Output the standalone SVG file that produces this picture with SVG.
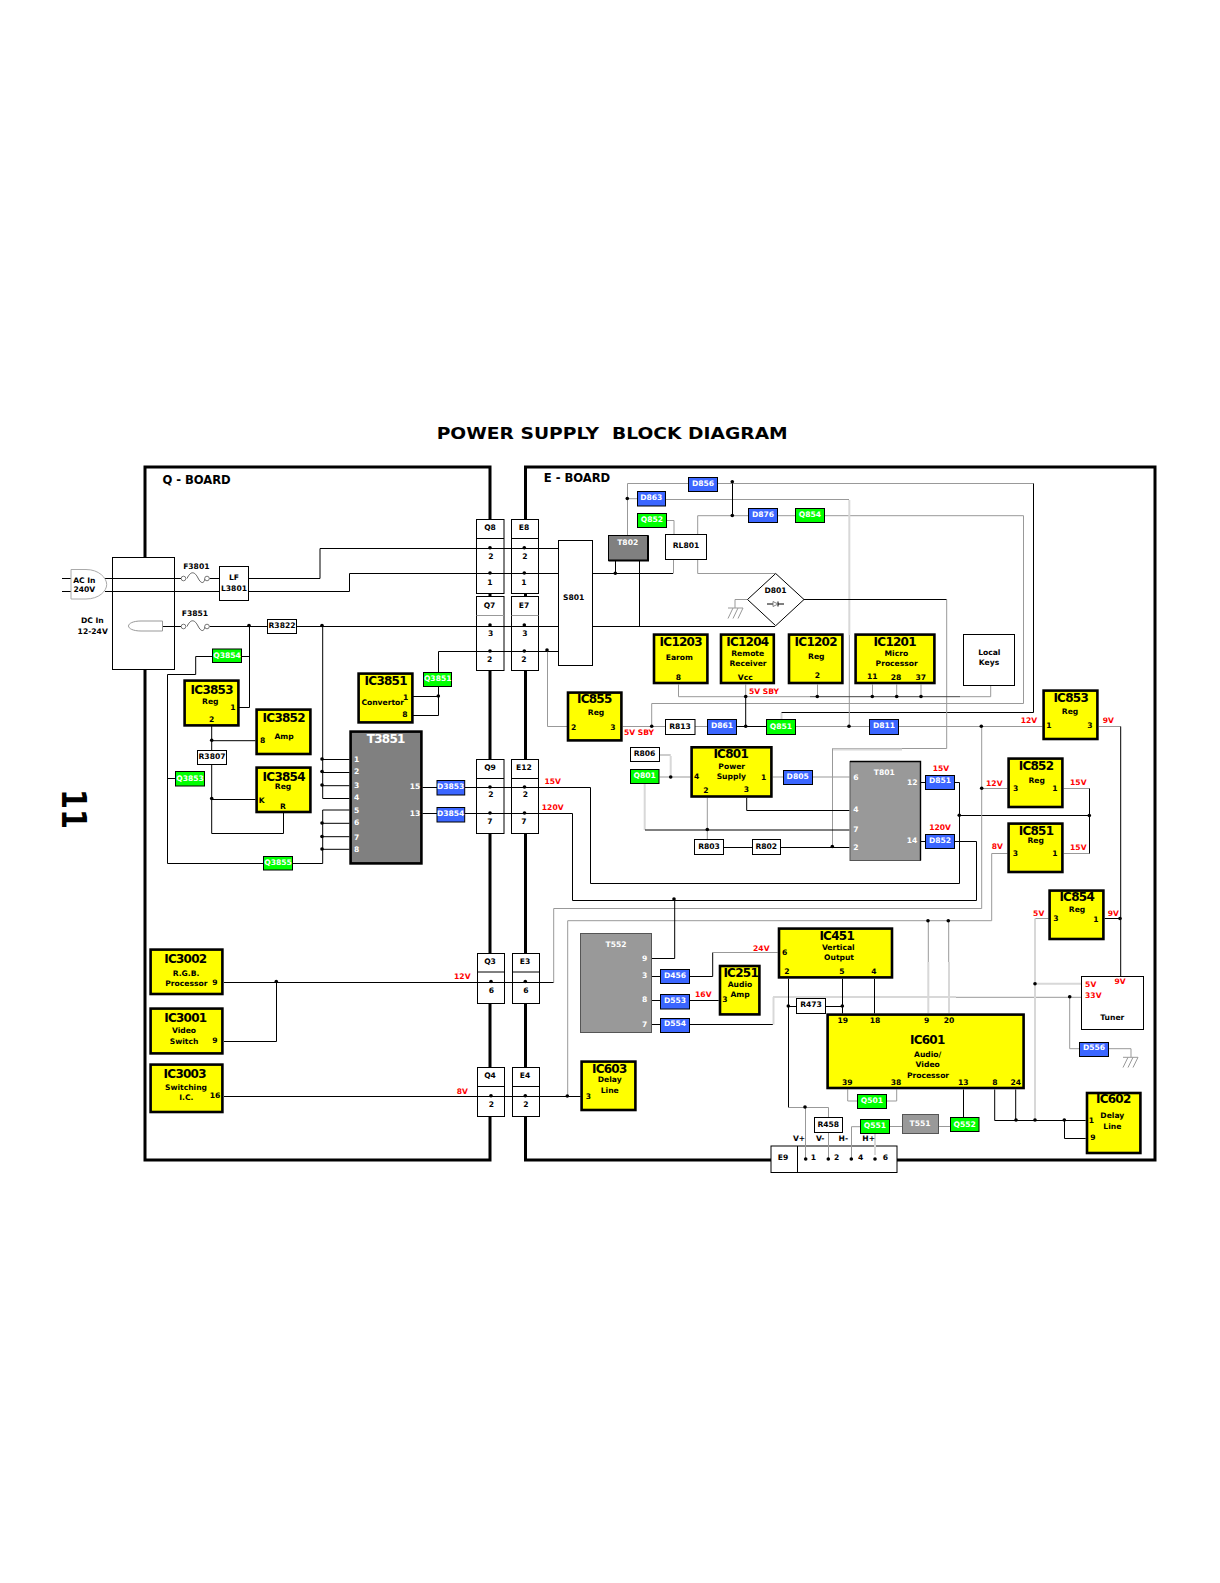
<svg xmlns="http://www.w3.org/2000/svg" width="1220" height="1583" viewBox="0 0 1220 1583">
<style>
text{font-family:"DejaVu Sans",sans-serif;font-weight:700;font-size:7.6px;text-anchor:middle;fill:#000}
.h{font-size:12px;letter-spacing:-.75px}
.w{fill:#fff}
.r{fill:#f00}
.bd{fill:none;stroke:#000;stroke-width:3}
.y{fill:#ff0;stroke:#000;stroke-width:2.6}
.b{fill:#3b66ff;stroke:#000;stroke-width:1}
.g{fill:#0f0;stroke:#000;stroke-width:1}
.n{fill:#fff;stroke:#000;stroke-width:1}
.k,.s,.l,.d{fill:none}
.k{stroke:#000;stroke-width:1}
.s{stroke:#999;stroke-width:1}
.l{stroke:#d8d8d8;stroke-width:2}
.d{stroke:#444;stroke-width:1}
</style>
<defs><circle id="o" r="1.8" fill="#000"/></defs>

<text x="436.700" y="439" textLength="351" lengthAdjust="spacingAndGlyphs" xml:space="preserve" style="font-size:16.6px;text-anchor:start;white-space:pre">POWER SUPPLY  BLOCK DIAGRAM</text>
<text transform="translate(62,789) rotate(90) scale(.85,1)" style="font-size:34px;text-anchor:start">11</text>

<g id="boards">
<path class="bd" d="M145 467H490V1160H145Z"/>
<path class="bd" d="M525.500 1160V467H1155V1160Z"/>
<text x="196.500" y="484" style="font-size:11.600px;letter-spacing:-.05px">Q - BOARD</text>
<text x="577" y="482" style="font-size:11.600px;letter-spacing:-.05px">E - BOARD</text>
</g>

<g id="connector-blocks">
<g id="Q8"><rect class="n" x="476.500" y="519.500" width="27.500" height="74"/><path class="k" d="M476.500 538.500H504"/><text x="490" y="530">Q8</text><text x="491" y="558.700">2</text><text x="490" y="585">1</text></g>
<g id="E8"><rect class="n" x="511.500" y="519.500" width="27" height="74"/><path class="k" d="M511.500 538.500H538.500"/><text x="524" y="530">E8</text><text x="525" y="558.700">2</text><text x="524" y="585">1</text></g>
<g id="Q7"><rect class="n" x="476.500" y="596.500" width="27.500" height="74"/><path class="s" d="M476.500 615.500H504"/><text x="489.500" y="608.300">Q7</text><text x="490.700" y="636">3</text><text x="489.700" y="661.700">2</text></g>
<g id="E7"><rect class="n" x="511.500" y="596.500" width="27" height="74"/><path class="s" d="M511.500 615.500H538.500"/><text x="524" y="608.300">E7</text><text x="525" y="636">3</text><text x="524" y="661.700">2</text></g>
<g id="Q9"><rect class="n" x="476.500" y="759.500" width="27.500" height="74"/><path class="k" d="M476.500 778.500H504"/><text x="490" y="769.700">Q9</text><text x="491" y="797.300">2</text><text x="490" y="823.700">7</text></g>
<g id="E12"><rect class="n" x="511.500" y="759.500" width="27" height="74"/><path class="k" d="M511.500 778.500H538.500"/><text x="524" y="769.700">E12</text><text x="525.300" y="797.300">2</text><text x="524" y="823.700">7</text></g>
<g id="Q3"><rect class="n" x="477.500" y="953.500" width="27" height="50"/><path class="k" d="M477.500 972H504.500"/><text x="490" y="964">Q3</text><text x="491.500" y="992.700">6</text></g>
<g id="E3"><rect class="n" x="512.500" y="953.500" width="27" height="50"/><path class="k" d="M512.500 972H539.500"/><text x="525" y="964">E3</text><text x="526" y="992.700">6</text></g>
<g id="Q4"><rect class="n" x="477.500" y="1067.500" width="27" height="49"/><path class="k" d="M477.500 1086.500H504.500"/><text x="490" y="1078">Q4</text><text x="491.500" y="1106.700">2</text></g>
<g id="E4"><rect class="n" x="512.500" y="1067.500" width="27" height="49"/><path class="k" d="M512.500 1086.500H539.500"/><text x="525" y="1078">E4</text><text x="526" y="1106.700">2</text></g>
<g id="E9"><rect class="n" x="771" y="1146" width="126" height="26.500"/><path class="k" d="M797.500 1146V1172.500"/><text x="783" y="1160">E9</text><text x="813.300" y="1160">1</text><text x="836.700" y="1160">2</text><text x="860.700" y="1160">4</text><text x="885.300" y="1160">6</text></g>
</g>

<g id="connectors">
<path class="k" d="M62 578.500H71M62 591.500H71M105 578.500H181M209.500 578.500H219.500M105 591.500H219.500"/>
<path class="k" d="M249 578.500H320V548.500H558.500M249 591.500H349.500V573.500H558.500"/>
<path class="k" d="M163 626.500H181M209.500 626.500H267.500M297 626.500H558.500M592.500 626.500H775M592.500 573.500H673"/>
<path class="k" d="M438.500 651.500H558.500M413 715.500H438.500V651.500M413 696.500H438.500"/>
<path class="k" d="M249.500 626.500V707.500H239M242 656.500H249.500M212.500 656.500H195.700V674.500H167.500V863.500H263.500M167.500 778.500H175.500M293 863.500H322.700"/>
<path class="k" d="M211.700 726V750.500M211.700 765V833.500H283.500V813M211.700 740.700H255.500M211.700 799.500H255.500"/>
<path class="k" d="M322.700 626.500V798.500M322.700 759.500H349.500M322.700 772.500H349.500M322.700 785.700H349.500M322.700 798.500H349.500M322.700 810V863.500M322.700 810H349.500M322.700 823.300H349.500M322.700 836.700H349.500M322.700 849.300H349.500"/>
<path class="k" d="M422.500 787.500H437M422.500 813.500H437M465 787.500H590.500V883.500H959.500V782.500H955M465 813.500H572.500V900.500H976.500V841.500H955M921 782.500H925.500M921 841.500H925.500M959.500 815.500H1089.500"/>
<path class="k" d="M224 982.500H553.700M276.500 982.500V1041.500H224M224 1096.500H580.500"/>
<path class="k" d="M615.500 560.700V573.500M639.500 560.700V626.500"/>
<path class="s" d="M673.500 573.500V559.500M667 520.500H674V534.500"/>
<path class="s" d="M627.500 535.500V483.500H688.500M717.700 483.500H1033.500M637.500 498.700H627.500M665.700 499.500H849"/>
<path class="k" d="M732.500 483.500V515.700"/>
<path class="s" d="M697.700 534.500V515.700H748.500M777.700 515.700H795.500M824.700 515.700H1023.500V703.500H651.700V726.500M697.700 559.500V573.500H775"/>
<path class="k" d="M1033.500 483.500V712.500H781.500"/>
<path class="l" d="M781.500 713V720"/>
<path class="l" d="M849.300 500V635"/>
<path class="s" d="M849.300 635V726.500"/>
<path class="s" d="M747.500 599.500H735V608M728 608H743M733 608L728 618.500M738 608L733 618.500M743 608L738 618.500"/>
<path class="k" d="M804 599.500H946.700"/>
<path class="s" d="M946.700 599.500V748.500H832.500V847"/>
<path class="l" d="M833 749.500H902"/>
<path class="s" d="M678.500 684.500V696.700H810M745.700 684.500V697M817.500 684.500V697M872.500 684.500V697M896.700 684.500V697M921 684.500V697M990.700 685.500V696.700H960"/>
<path class="d" d="M810 696.700H960"/>
<path class="k" d="M745.700 697V726.500"/>
<path class="s" d="M547.500 651.500V726.500H567M622.700 726.500H665.500M695 726.500H707.500"/>
<path class="k" d="M736.700 726.500H766.500"/>
<path class="s" d="M795.700 726.500H869.500M898.700 726.500H1042.500M1098.700 726.500H1120.700"/>
<path class="k" d="M1120.700 726.500V976.500M1104.700 918.500H1120.700"/>
<path class="s" d="M981.700 726.500V908.500H553.700V982.500M981.700 788.500H1007.500M1063.700 788.500H1089.500M1063.700 853.500H1089.500"/>
<path class="k" d="M1089.500 788.500V853.500"/>
<path class="s" d="M1007.500 853.500H991.700V920.700H567.700V1096.500"/>
<path class="s" d="M948.700 920.700V962M928.300 920.700V962"/>
<path class="l" d="M949 962V1013M928.300 962V1013M773 997H956"/>
<path class="s" d="M956 997.300H1081.500M1069.700 997.300V1048.700H1079.500M1108.700 1048.700H1131V1057M1123 1057.300H1138M1128 1057.300L1123 1067.500M1133 1057.300L1128 1067.500M1138 1057.300L1133 1067.500"/>
<path class="s" d="M1048.500 918.500H1035"/>
<path class="l" d="M1035 918.500V1120M1035 983.700H1081"/>
<path class="s" d="M659.500 755H670.700M659.500 777H690.500M772.700 777H783.500M812.700 777H849.500M707.300 797.700V839.500"/>
<path class="l" d="M670.700 756V777M644.700 784V830"/>
<path class="k" d="M645 830H849.500M746.700 797.700V810.500H849.500M723.700 847.500H752.500M780.700 847.500H849.500"/>
<path class="k" d="M652 958.500H674.700V900.500M652 976.500H660.500M652 1000.500H660.500M652 1024.500H660.500M689.700 1000.500H718.700M689.700 976.500H712.700V952.500"/>
<path class="s" d="M712.700 952.500H777.700"/>
<path class="k" d="M689.700 1024.500H773"/>
<path class="l" d="M773.500 1024.500V997"/>
<path class="k" d="M788.500 978.700V1107.500M788.500 1006.500H796.500M825.700 1006.500H842.500M842.500 978.700V1013.500M874.500 978.700V1013.500"/>
<path class="s" d="M788.500 1107.500H828.500V1117.500M805.500 1107.500V1159M828.500 1132.500V1159M860.500 1126.700H851.500V1159"/>
<path class="l" d="M875 1134V1155"/>
<path class="s" d="M889.700 1126.500H902.500M938.700 1126.500H950.500M847.700 1089.500V1101H857.500M896.700 1089.500V1101H886.700"/>
<path class="k" d="M963.500 1089.500V1117.500M994.700 1089.500V1120.500H1085.700M1015.700 1089.500V1120.500M1064.500 1120.500V1138.500H1085.700"/>
<g>
<use href="#o" x="249" y="625.500"/><use href="#o" x="322" y="625.500"/><use href="#o" x="438.300" y="696"/><use href="#o" x="211.700" y="740.300"/><use href="#o" x="211.700" y="798.500"/>
<use href="#o" x="322" y="759"/><use href="#o" x="322" y="771.500"/><use href="#o" x="322" y="785"/><use href="#o" x="322" y="823"/><use href="#o" x="322" y="836.500"/><use href="#o" x="322" y="849"/>
<use href="#o" x="490" y="547.700"/><use href="#o" x="524.300" y="547.700"/><use href="#o" x="490" y="573"/><use href="#o" x="524.300" y="573"/><use href="#o" x="490" y="625"/><use href="#o" x="524.300" y="625"/><use href="#o" x="490" y="651"/><use href="#o" x="524.300" y="651"/>
<use href="#o" x="490" y="787"/><use href="#o" x="524.500" y="787"/><use href="#o" x="490" y="813"/><use href="#o" x="524.500" y="813"/><use href="#o" x="491" y="981.500"/><use href="#o" x="525.300" y="981.500"/><use href="#o" x="491" y="1095.700"/><use href="#o" x="525.300" y="1095.700"/>
<use href="#o" x="276.300" y="981.500"/><use href="#o" x="547" y="650"/><use href="#o" x="615.300" y="573.300"/><use href="#o" x="627.300" y="498.500"/><use href="#o" x="732.300" y="481.700"/><use href="#o" x="732.300" y="515.500"/>
<use href="#o" x="651.700" y="726.300"/><use href="#o" x="745.700" y="696.500"/><use href="#o" x="745.700" y="726.300"/><use href="#o" x="817.300" y="696.500"/><use href="#o" x="872.300" y="696.500"/><use href="#o" x="896.700" y="696.500"/><use href="#o" x="921" y="696.500"/>
<use href="#o" x="849" y="726.300"/><use href="#o" x="981.300" y="726.300"/><use href="#o" x="981.700" y="788.300"/><use href="#o" x="959.300" y="815.300"/><use href="#o" x="1089.300" y="815.500"/><use href="#o" x="1120" y="918.500"/><use href="#o" x="1035" y="983.700"/><use href="#o" x="1069.700" y="996.700"/>
<use href="#o" x="670.700" y="777"/><use href="#o" x="707.300" y="829.500"/><use href="#o" x="832.300" y="846.500"/><use href="#o" x="674" y="899"/><use href="#o" x="928" y="920.700"/><use href="#o" x="948.300" y="920.700"/><use href="#o" x="567.300" y="1096"/>
<use href="#o" x="788.300" y="1006"/><use href="#o" x="842.300" y="1006"/><use href="#o" x="805" y="1107"/><use href="#o" x="805.700" y="1159"/><use href="#o" x="828.300" y="1159"/><use href="#o" x="851.300" y="1159"/><use href="#o" x="875" y="1159"/>
<use href="#o" x="1016" y="1120"/><use href="#o" x="1035" y="1120"/><use href="#o" x="1064.300" y="1120"/>
</g>
</g>

<g id="AC-In"><path d="M71 569.500H86C99 569.500 106.700 578 106.700 584.500C106.700 591 99 599 86 599H71Z" fill="#fff" stroke="#aaa" stroke-width="1"/><text x="84.300" y="582.700">AC In</text><text x="84.300" y="592">240V</text></g>
<g id="DC-In"><text x="92.300" y="623.300">DC In</text><text x="92.700" y="634">12-24V</text></g>
<g id="power-box"><rect class="n" x="112.500" y="557.500" width="62" height="112"/><path class="k" d="M112.500 578.500H174.500M112.500 591.500H174.500M163 626.500H174.500"/><path d="M162.500 621H141C133 621 128.500 623.500 128.500 626C128.500 628.500 133 631 141 631H162.500Z" fill="#fff" stroke="#999" stroke-width="1"/></g>
<g id="F3801"><path fill="none" stroke="#555" stroke-width=".9" d="M187 578.500C191 570 195 572 198 578C201 584 204 584 205 578.500"/><circle cx="183.500" cy="578.500" r="2.300" fill="#fff" stroke="#555" stroke-width=".8"/><circle cx="207" cy="578.500" r="2.300" fill="#fff" stroke="#555" stroke-width=".8"/><text x="196.300" y="568.700">F3801</text></g>
<g id="F3851"><path fill="none" stroke="#555" stroke-width=".9" d="M187 626.500C191 618 195 620 198 626C201 632 204 632 205 626.500"/><circle cx="183.500" cy="626.500" r="2.300" fill="#fff" stroke="#555" stroke-width=".8"/><circle cx="207" cy="626.500" r="2.300" fill="#fff" stroke="#555" stroke-width=".8"/><text x="195" y="616">F3851</text></g>
<g id="L3801"><rect class="n" x="219.500" y="566.500" width="29" height="34"/><text x="234" y="580">LF</text><text x="234" y="591">L3801</text></g>
<g id="R3822"><rect class="n" x="267.500" y="619.500" width="29" height="14"/><text x="282" y="628.300">R3822</text></g>
<g id="Q3854"><rect class="g" x="212.500" y="649" width="29" height="13.500"/><text class="w" x="227" y="657.500">Q3854</text></g>
<g id="IC3853"><rect class="y" x="184.600" y="680.600" width="53.800" height="44.800"/><text class="h" x="211.700" y="694.300">IC3853</text><text x="210.300" y="704">Reg</text><text x="233" y="710">1</text><text x="211.700" y="722">2</text></g>
<g id="IC3852"><rect class="y" x="256.600" y="709.600" width="53.800" height="44.400"/><text class="h" x="283.700" y="722">IC3852</text><text x="284" y="739">Amp</text><text x="262.700" y="743">8</text></g>
<g id="IC3851"><rect class="y" x="358.600" y="673.600" width="53.800" height="48.800"/><text class="h" x="385.700" y="685.300">IC3851</text><text x="382.700" y="705">Convertor</text><text x="405.700" y="700">1</text><text x="405" y="717.300">8</text></g>
<g id="Q3851"><rect class="g" x="423.500" y="672.500" width="28" height="14"/><text class="w" x="437.700" y="681">Q3851</text></g>
<g id="T3851"><rect x="350.600" y="731.600" width="70.800" height="131.800" fill="#808080" stroke="#000" stroke-width="2.600"/><text class="h w" x="385.700" y="743.300">T3851</text><text class="w" x="356.700" y="762">1</text><text class="w" x="356.700" y="774">2</text><text class="w" x="356.700" y="788">3</text><text class="w" x="356.700" y="800">4</text><text class="w" x="356.700" y="812.700">5</text><text class="w" x="356.700" y="824.700">6</text><text class="w" x="356.700" y="840">7</text><text class="w" x="356.700" y="852">8</text><text class="w" x="415" y="788.700">15</text><text class="w" x="415" y="815.700">13</text></g>
<g id="R3807"><rect class="n" x="197.500" y="750.500" width="29" height="14"/><text x="212" y="759">R3807</text></g>
<g id="Q3853"><rect class="g" x="175.500" y="771.500" width="29" height="14.500"/><text class="w" x="190" y="780.700">Q3853</text></g>
<g id="IC3854"><rect class="y" x="256.600" y="767.600" width="53.800" height="44.400"/><text class="h" x="283.700" y="781">IC3854</text><text x="283" y="789">Reg</text><text x="261.700" y="803">K</text><text x="283" y="809">R</text></g>
<g id="Q3855"><rect class="g" x="263.500" y="856.500" width="29" height="13.500"/><text class="w" x="278" y="864.700">Q3855</text></g>
<g id="D3853"><rect class="b" x="437" y="780.500" width="27.700" height="14.500"/><text class="w" x="450.700" y="789">D3853</text></g>
<g id="D3854"><rect class="b" x="437" y="807.500" width="27.700" height="14.500"/><text class="w" x="450.700" y="815.700">D3854</text></g>
<g id="IC3002"><rect class="y" x="150.600" y="949.600" width="71.800" height="44.400"/><text class="h" x="185.300" y="963.300">IC3002</text><text x="186" y="976">R.G.B.</text><text x="186.300" y="985.700">Processor</text><text x="215" y="985">9</text></g>
<g id="IC3001"><rect class="y" x="150.600" y="1008.600" width="71.800" height="44.800"/><text class="h" x="185.300" y="1022.300">IC3001</text><text x="184" y="1033">Video</text><text x="184" y="1044">Switch</text><text x="215" y="1043">9</text></g>
<g id="IC3003"><rect class="y" x="150.600" y="1064.600" width="71.800" height="47.400"/><text class="h" x="184.700" y="1078.300">IC3003</text><text x="186" y="1090">Switching</text><text x="186.300" y="1100">I.C.</text><text x="215" y="1098">16</text></g>

<g id="S801"><rect class="n" x="558.500" y="540.500" width="34" height="125"/><text x="573.700" y="600">S801</text></g>
<g id="T802"><rect x="608.500" y="535.500" width="39.500" height="25" fill="#808080" stroke="#000" stroke-width="1"/><path d="M648 535.500V560.500H608.500" fill="none" stroke="#000" stroke-width="2"/><text class="w" x="627.700" y="545">T802</text></g>
<g id="RL801"><rect class="n" x="665.500" y="534.500" width="41" height="25"/><text x="686" y="548">RL801</text></g>
<g id="Q852"><rect class="g" x="637.500" y="513.500" width="29" height="14"/><text class="w" x="652" y="522">Q852</text></g>
<g id="D863"><rect class="b" x="637.500" y="491.500" width="28" height="14.500"/><text class="w" x="651.300" y="499.700">D863</text></g>
<g id="D856"><rect class="b" x="688.500" y="477.500" width="29" height="14"/><text class="w" x="703" y="486">D856</text></g>
<g id="D876"><rect class="b" x="748.500" y="508.500" width="29" height="14"/><text class="w" x="763" y="517">D876</text></g>
<g id="Q854"><rect class="g" x="795.500" y="508.500" width="29" height="14"/><text class="w" x="810" y="517">Q854</text></g>
<g id="D801"><path class="n" d="M775.700 573.500L804 599.500L775.700 625.700L747.500 599.500Z"/><path class="k" d="M767 604H773M778 604H784M778 601.500V606.500"/><path d="M773 601.500V606.500L778 604Z" fill="#fff" stroke="#666" stroke-width=".8"/><text x="775.500" y="592.700">D801</text></g>
<g id="IC1203"><rect class="y" x="654" y="634.600" width="53.400" height="48.400"/><text class="h" x="680.700" y="646.300">IC1203</text><text x="679.300" y="660">Earom</text><text x="678.500" y="680">8</text></g>
<g id="IC1204"><rect class="y" x="721" y="634.600" width="52.800" height="48.400"/><text class="h" x="747.300" y="646.300">IC1204</text><text x="747.700" y="656">Remote</text><text x="748" y="666">Receiver</text><text x="745.300" y="680">Vcc</text></g>
<g id="IC1202"><rect class="y" x="789" y="634.600" width="53.400" height="48.400"/><text class="h" x="815.700" y="646.300">IC1202</text><text x="816.300" y="659">Reg</text><text x="817.300" y="678.300">2</text></g>
<g id="IC1201"><rect class="y" x="855.600" y="634.600" width="78.800" height="48.400"/><text class="h" x="894.700" y="646.300">IC1201</text><text x="896.300" y="656">Micro</text><text x="896.700" y="666">Processor</text><text x="872.300" y="679">11</text><text x="896" y="680">28</text><text x="920.700" y="680">37</text></g>
<g id="Local-Keys"><rect class="n" x="963.500" y="634.500" width="51" height="51"/><text x="989.300" y="655">Local</text><text x="989" y="665">Keys</text></g>
<g id="IC855"><rect class="y" x="568" y="692.600" width="53.400" height="47.800"/><text class="h" x="594.300" y="703.300">IC855</text><text x="596" y="715">Reg</text><text x="573.700" y="729.700">2</text><text x="613" y="729.700">3</text></g>
<g id="R813"><rect class="n" x="665.500" y="719.500" width="29.500" height="15"/><text x="680" y="728.700">R813</text></g>
<g id="D861"><rect class="b" x="707.500" y="719.500" width="29" height="15"/><text class="w" x="722" y="728">D861</text></g>
<g id="Q851"><rect class="g" x="766.500" y="719.500" width="29" height="15"/><text class="w" x="781" y="728.700">Q851</text></g>
<g id="D811"><rect class="b" x="869.500" y="719.500" width="29" height="15"/><text class="w" x="884" y="728">D811</text></g>
<g id="IC853"><rect class="y" x="1043.600" y="690.600" width="53.800" height="48.400"/><text class="h" x="1070.700" y="702">IC853</text><text x="1070" y="714">Reg</text><text x="1049" y="727.700">1</text><text x="1090" y="727.700">3</text></g>
<g id="R806"><rect class="n" x="630.500" y="747.500" width="29" height="14"/><text x="644.500" y="756">R806</text></g>
<g id="Q801"><rect class="g" x="630.500" y="769.500" width="28.500" height="14"/><text class="w" x="644.700" y="777.700">Q801</text></g>
<g id="IC801"><rect class="y" x="691.600" y="747.300" width="79.800" height="49.200"/><text class="h" x="730.700" y="758">IC801</text><text x="731.700" y="768.700">Power</text><text x="731.300" y="779">Supply</text><text x="696.700" y="779">4</text><text x="763.700" y="780">1</text><text x="706" y="792.700">2</text><text x="746.300" y="791.700">3</text></g>
<g id="D805"><rect class="b" x="783.500" y="770.500" width="29" height="14"/><text class="w" x="797.700" y="778.700">D805</text></g>
<g id="R803"><rect class="n" x="694.500" y="839.500" width="29" height="15"/><text x="709" y="849">R803</text></g>
<g id="R802"><rect class="n" x="752.500" y="839.500" width="28" height="15"/><text x="766.300" y="849">R802</text></g>
<g id="T801"><rect x="850" y="761.500" width="70.500" height="99" fill="#999" stroke="#555" stroke-width="1"/><path d="M850 761.500H920.500V860.500" fill="none" stroke="#000" stroke-width="1.400"/><text class="w" x="884.300" y="774.700">T801</text><text class="w" x="856" y="779.700">6</text><text class="w" x="912.300" y="784.700">12</text><text class="w" x="856" y="811.700">4</text><text class="w" x="856" y="831.700">7</text><text class="w" x="856" y="849.700">2</text><text class="w" x="912" y="843">14</text></g>
<g id="D851"><rect class="b" x="925.500" y="775.500" width="29" height="14"/><text class="w" x="940" y="782.700">D851</text></g>
<g id="D852"><rect class="b" x="925.500" y="834.500" width="29" height="14"/><text class="w" x="940" y="842.700">D852</text></g>
<g id="IC852"><rect class="y" x="1008.600" y="758.600" width="53.800" height="48.400"/><text class="h" x="1036" y="770">IC852</text><text x="1036.700" y="783.300">Reg</text><text x="1015.700" y="790.700">3</text><text x="1055" y="790.700">1</text></g>
<g id="IC851"><rect class="y" x="1008.600" y="823.600" width="53.800" height="48.400"/><text class="h" x="1036" y="835">IC851</text><text x="1035.700" y="843">Reg</text><text x="1015.300" y="855.700">3</text><text x="1055" y="855.700">1</text></g>
<g id="IC854"><rect class="y" x="1049.600" y="890.600" width="53.800" height="48.400"/><text class="h" x="1076.700" y="901">IC854</text><text x="1077" y="912">Reg</text><text x="1056" y="920.700">3</text><text x="1096" y="922">1</text></g>
<g id="Tuner"><rect class="n" x="1081.500" y="976.500" width="62" height="53"/><text x="1112.300" y="1019.700">Tuner</text><text class="r" x="1090.700" y="986.700">5V</text><text class="r" x="1093.300" y="997.700">33V</text><text class="r" x="1120" y="983.700">9V</text></g>
<g id="D556"><rect class="b" x="1079.500" y="1042.500" width="29" height="14"/><text class="w" x="1094" y="1049.700">D556</text></g>
<g id="T552"><rect x="580.500" y="933.500" width="71" height="99" fill="#999" stroke="#555" stroke-width="1"/><text class="w" x="616" y="946.700">T552</text><text class="w" x="644.700" y="960.700">9</text><text class="w" x="644.700" y="977.700">3</text><text class="w" x="644.700" y="1001.700">8</text><text class="w" x="644.700" y="1026.700">7</text></g>
<g id="D456"><rect class="b" x="660.500" y="969.500" width="29" height="14"/><text class="w" x="675" y="978">D456</text></g>
<g id="D553"><rect class="b" x="660.500" y="994.500" width="29" height="14.500"/><text class="w" x="675" y="1002.700">D553</text></g>
<g id="D554"><rect class="b" x="660.500" y="1018.500" width="29" height="14"/><text class="w" x="675" y="1026">D554</text></g>
<g id="IC251"><rect class="y" x="720" y="966" width="39.400" height="48.400"/><text class="h" x="740.700" y="976.700">IC251</text><text x="740" y="987">Audio</text><text x="740" y="997">Amp</text><text x="725" y="1001.700">3</text></g>
<g id="IC451"><rect class="y" x="779" y="928.600" width="113" height="48.800"/><text class="h" x="836.700" y="940">IC451</text><text x="838.300" y="950">Vertical</text><text x="839" y="960">Output</text><text x="784.700" y="954.700">6</text><text x="787" y="974">2</text><text x="842" y="974">5</text><text x="874" y="974">4</text></g>
<g id="R473"><rect class="n" x="796.500" y="998.500" width="29" height="15"/><text x="811" y="1007">R473</text></g>
<g id="IC603"><rect class="y" x="581.600" y="1061.600" width="53.800" height="48.400"/><text class="h" x="609.300" y="1073">IC603</text><text x="609.700" y="1082.300">Delay</text><text x="609.700" y="1092.700">Line</text><text x="588.300" y="1099">3</text></g>
<g id="IC601"><rect class="y" x="827.600" y="1014.600" width="196" height="73.400"/><text class="h" x="927.300" y="1043.700">IC601</text><text x="927.700" y="1057">Audio/</text><text x="927.700" y="1067">Video</text><text x="928" y="1078">Processor</text><text x="842.700" y="1022.700">19</text><text x="875" y="1022.700">18</text><text x="926.700" y="1022.700">9</text><text x="949" y="1022.700">20</text><text x="847.300" y="1085">39</text><text x="896" y="1085">38</text><text x="963.300" y="1085">13</text><text x="995" y="1085">8</text><text x="1015.700" y="1085">24</text></g>
<g id="Q501"><rect class="g" x="857.500" y="1094.500" width="29" height="14"/><text class="w" x="872" y="1103">Q501</text></g>
<g id="R458"><rect class="n" x="814.500" y="1117.500" width="28" height="15"/><text x="828.300" y="1127">R458</text></g>
<g id="Q551"><rect class="g" x="860.500" y="1119.500" width="29" height="14"/><text class="w" x="875" y="1128">Q551</text></g>
<g id="T551"><rect x="902.500" y="1114.500" width="36" height="19" fill="#999" stroke="#555" stroke-width="1"/><text class="w" x="920" y="1126">T551</text></g>
<g id="Q552"><rect class="g" x="950.500" y="1117.500" width="28.500" height="14"/><text class="w" x="964.700" y="1127">Q552</text></g>
<g id="IC602"><rect class="y" x="1087" y="1093" width="53.400" height="60"/><text class="h" x="1113.300" y="1102.700">IC602</text><text x="1112.300" y="1118">Delay</text><text x="1112.300" y="1129">Line</text><text x="1091.300" y="1123">1</text><text x="1093" y="1140">9</text></g>

<g id="labels">
<text class="r" x="552.700" y="784">15V</text><text class="r" x="552.700" y="810">120V</text><text class="r" x="462.300" y="979">12V</text><text class="r" x="462.300" y="1093.700">8V</text>
<text class="r" x="764" y="693.700">5V SBY</text><text class="r" x="639" y="735">5V SBY</text><text class="r" x="1029" y="722.700">12V</text><text class="r" x="1108.300" y="722.700">9V</text>
<text class="r" x="941" y="770.700">15V</text><text class="r" x="940" y="830">120V</text><text class="r" x="994.300" y="785.700">12V</text><text class="r" x="1078.300" y="784.700">15V</text><text class="r" x="997.300" y="849.300">8V</text><text class="r" x="1078.300" y="849.700">15V</text><text class="r" x="1038.700" y="915.700">5V</text><text class="r" x="1113.300" y="915.700">9V</text>
<text class="r" x="761.300" y="951">24V</text><text class="r" x="703.300" y="997">16V</text>
<text x="799" y="1141">V+</text><text x="820.300" y="1141">V-</text><text x="843.300" y="1141">H-</text><text x="868.700" y="1141">H+</text>
</g>
</svg>
